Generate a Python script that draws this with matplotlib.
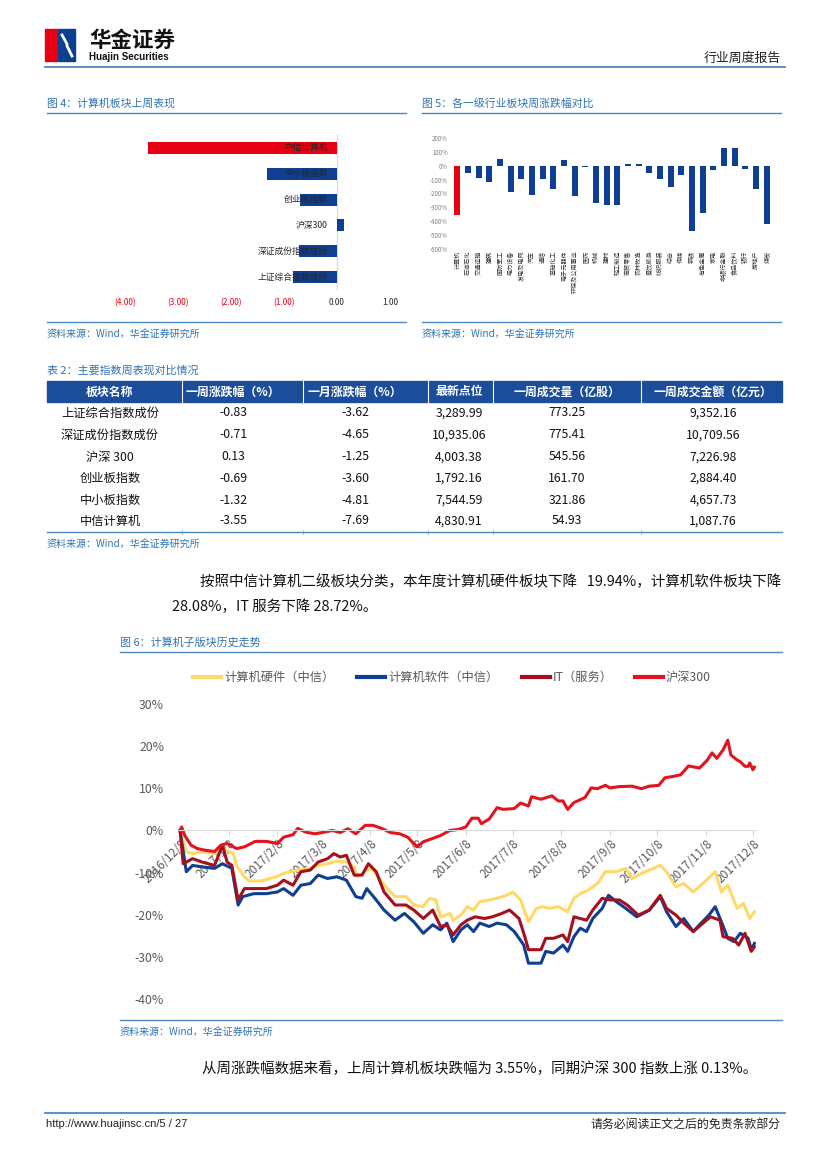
import numpy as np
import pandas as pd
import matplotlib
matplotlib.use("Agg")
import matplotlib.pyplot as plt
import matplotlib.dates as mdates
from matplotlib.patches import Rectangle

plt.rcParams['font.family'] = ['Noto Sans CJK SC', 'DejaVu Sans']
plt.rcParams['axes.unicode_minus'] = False

# ---- 表2 数据 ----
tbl_header = ["板块名称", "一周涨跌幅（%）", "一月涨跌幅（%）", "最新点位", "一周成交量（亿股）", "一周成交金额（亿元）"]
idx_names = ["上证综合指数成份", "深证成份指数成份", "沪深 300", "创业板指数", "中小板指数", "中信计算机"]
week_chg = [-0.83, -0.71, 0.13, -0.69, -1.32, -3.55]
month_chg = [-3.62, -4.65, -1.25, -3.60, -4.81, -7.69]
last_pts = [3289.99, 10935.06, 4003.38, 1792.16, 7544.59, 4830.91]
week_vol = [773.25, 775.41, 545.56, 161.70, 321.86, 54.93]
week_amt = [9352.16, 10709.56, 7226.98, 2884.40, 4657.73, 1087.76]

# ---- 图4 数据 (自下而上) ----
f4_names = ["上证综合指数成份", "深证成份指数成份", "沪深300", "创业板指数", "中小板指数", "中信计算机"]
f4_vals = [-0.83, -0.71, 0.13, -0.69, -1.32, -3.55]

# ---- 图5 数据 ----
f5_names = ["计算机", "石油石化", "交通运输", "建筑", "国防军工", "电力设备", "发电及电网", "汽车", "通信",
            "基础化工", "电子元器件", "环保及公用事业", "医药", "机械", "建材", "轻工制造", "商贸零售",
            "农林牧渔", "餐饮旅游", "纺织服装", "综合", "传媒", "钢铁", "有色金属", "家电", "非银行金融",
            "食品饮料", "银行", "房地产", "煤炭"]
f5_vals = [-355, -50, -85, -120, 50, -190, -95, -210, -95, -165, 45, -220, -10, -265, -280, -280, 15,
           15, -50, -95, -155, -70, -470, -340, -30, 125, 130, -20, -165, -420]

# ---- 图6 数据 (距 2016/12/8 的天数, 累计涨跌幅 %) ----
hs300_d = [0, 1, 3, 7, 11, 16, 22, 26, 30, 36, 41, 48, 55, 62, 66, 72, 75, 80, 86, 92, 97, 102, 107, 112,
           118, 123, 129, 134, 140, 145, 151, 155, 161, 166, 172, 177, 182, 186, 190, 192, 197, 202, 206,
           213, 217, 222, 224, 230, 237, 241, 244, 247, 251, 258, 262, 266, 271, 274, 280, 288, 294, 299,
           305, 309, 314, 319, 324, 331, 336, 339, 342, 346, 349, 351, 355, 357, 360, 362, 363, 365, 366]
hs300_v = [0.0, 0.8, -1.2, -3.5, -4.3, -4.7, -5.0, -3.5, -3.1, -4.3, -3.9, -2.6, -2.6, -3.1, -1.6, -1.0,
           0.5, -0.4, -0.8, -0.4, 0.0, -0.5, 0.4, -0.8, 1.2, 1.2, 0.4, -0.5, -0.8, -1.6, -3.9, -2.7, -1.9,
           -1.2, 0.0, 0.2, 0.8, 2.9, 2.9, 1.6, 2.7, 5.4, 5.0, 5.2, 6.5, 5.8, 8.0, 7.4, 8.2, 7.0, 7.0, 5.0,
           6.6, 7.8, 10.1, 9.9, 10.7, 10.1, 10.4, 10.5, 9.9, 10.5, 10.7, 12.5, 12.8, 13.2, 15.3, 14.8,
           16.7, 18.4, 17.1, 19.1, 21.4, 17.9, 16.7, 16.3, 15.2, 15.2, 16.0, 14.4, 15.0]

hw_d = [0, 4, 8, 14, 22, 27, 32, 34, 36, 41, 44, 52, 61, 66, 75, 83, 88, 94, 100, 106, 111, 113, 119,
        122, 126, 133, 137, 144, 149, 155, 159, 163, 166, 172, 174, 179, 183, 187, 191, 197, 202, 208,
        212, 217, 222, 227, 231, 235, 241, 247, 251, 255, 260, 266, 271, 278, 284, 288, 294, 299, 306,
        310, 316, 321, 327, 332, 341, 345, 349, 355, 359, 363, 366]
hw_v = [0.0, -5.1, -5.5, -5.1, -5.5, -4.3, -5.1, -5.5, -8.3, -11.0, -12.0, -12.0, -11.0, -10.2, -9.4,
        -9.0, -8.3, -7.9, -7.3, -7.5, -8.7, -11.0, -9.4, -9.0, -11.0, -14.2, -15.7, -15.7, -17.7, -18.1,
        -16.1, -16.5, -20.5, -19.7, -21.3, -20.1, -18.1, -18.9, -16.9, -16.5, -16.1, -15.4, -14.6, -16.5,
        -21.7, -18.5, -18.1, -18.5, -18.1, -19.3, -16.1, -15.0, -14.2, -12.6, -9.8, -9.8, -9.0, -11.4,
        -10.2, -9.4, -8.3, -9.8, -13.4, -12.6, -14.6, -13.0, -9.8, -14.6, -13.0, -18.5, -17.3, -20.9, -19.3]

sw_d = [0, 4, 8, 15, 22, 27, 33, 37, 40, 47, 55, 62, 66, 72, 77, 83, 88, 94, 100, 106, 112, 116, 119, 125,
        130, 137, 143, 149, 155, 161, 166, 170, 174, 179, 183, 187, 191, 197, 202, 208, 213, 219, 222, 230,
        233, 238, 244, 247, 251, 255, 259, 263, 269, 273, 278, 284, 291, 299, 306, 310, 316, 321, 327, 331,
        337, 341, 345, 349, 353, 357, 362, 364, 366]
sw_v = [0.0, -9.8, -8.3, -8.7, -9.0, -7.9, -9.0, -17.7, -15.7, -15.0, -15.0, -14.6, -13.8, -15.4, -13.0,
        -12.6, -10.6, -11.4, -11.0, -11.8, -15.7, -16.1, -13.8, -16.5, -18.9, -21.3, -19.7, -21.7, -24.4,
        -22.4, -23.6, -22.0, -26.4, -23.6, -22.4, -24.0, -22.0, -22.8, -22.0, -22.4, -24.0, -27.2, -31.5,
        -31.5, -28.7, -29.1, -27.2, -28.7, -25.2, -23.2, -24.0, -20.9, -18.5, -15.4, -16.9, -18.5, -20.5,
        -18.9, -15.7, -19.3, -22.8, -20.9, -24.0, -22.4, -20.1, -18.1, -21.7, -25.6, -26.4, -24.4, -25.6,
        -28.3, -26.8]

it_d = [0, 2, 8, 14, 22, 27, 30, 33, 37, 41, 47, 55, 62, 66, 72, 77, 83, 88, 94, 98, 102, 106, 111, 116,
        120, 125, 130, 137, 144, 149, 155, 161, 166, 170, 174, 179, 183, 188, 194, 199, 205, 210, 216, 220,
        222, 230, 233, 238, 244, 247, 251, 255, 259, 263, 269, 274, 280, 285, 292, 299, 306, 310, 316, 321,
        327, 332, 338, 344, 346, 352, 356, 360, 364, 366]
it_v = [0.0, -7.9, -6.7, -7.5, -8.3, -3.5, -7.5, -8.3, -16.5, -13.8, -13.8, -13.8, -13.0, -11.8, -13.0,
        -9.8, -9.4, -7.5, -6.7, -5.5, -6.3, -5.9, -10.6, -10.6, -7.9, -9.8, -14.6, -17.7, -17.7, -18.9,
        -20.9, -18.9, -22.8, -22.4, -24.8, -22.4, -21.3, -20.5, -20.9, -20.5, -19.7, -18.9, -20.9, -25.6,
        -28.3, -28.3, -25.6, -25.6, -24.8, -26.4, -20.5, -20.9, -21.3, -18.9, -16.1, -16.5, -16.5, -17.7,
        -20.1, -18.9, -15.4, -18.5, -20.1, -22.0, -24.0, -22.4, -20.5, -21.3, -25.2, -25.6, -27.2, -24.4,
        -28.7, -27.6]

f6_series = [("计算机硬件（中信）", hw_d, hw_v, "#FFD966"),
             ("计算机软件（中信）", sw_d, sw_v, "#0E3F93"),
             ("IT（服务）", it_d, it_v, "#A50F1E"),
             ("沪深300", hs300_d, hs300_v, "#E3141D")]
f6_start = "2016-12-08"
f6_months = ["2016-12-08", "2017-01-08", "2017-02-08", "2017-03-08", "2017-04-08", "2017-05-08",
             "2017-06-08", "2017-07-08", "2017-08-08", "2017-09-08", "2017-10-08", "2017-11-08",
             "2017-12-08"]

W, H = 827, 1169
BLUE_T = "#2E74B5"
BLUE_L = "#4A89C0"
fig = plt.figure(figsize=(8.27, 11.69), dpi=100)
page = fig.add_axes([0, 0, 1, 1])
page.set_xlim(0, W)
page.set_ylim(H, 0)
page.axis('off')


def box(l, t, r, b):
    return fig.add_axes([l / W, 1 - b / H, (r - l) / W, (b - t) / H])


# 页眉
page.add_patch(Rectangle((45, 29), 12, 32, color="#E60012"))
page.add_patch(Rectangle((58, 29), 17, 32, color="#0B3F91"))
page.plot([62, 67, 67, 72], [35, 44, 46, 56], color="white", lw=2)
page.text(89, 40, "华金证券", fontsize=15.5, fontweight="bold", va="center", color="#111111")
page.text(89, 57, "Huajin Securities", fontsize=7, fontweight="bold", va="center",
          family="Liberation Sans", color="#111111")
page.text(781, 58, "行业周度报告", fontsize=9.3, ha="right", va="center", color="#222222")
page.plot([45, 785], [67, 67], color=BLUE_L, lw=1.3)

# 图4 / 图5 标题
page.text(47, 103, "图 4：计算机板块上周表现", fontsize=7.8, color=BLUE_T, va="center")
page.plot([47, 406], [113, 113], color=BLUE_L, lw=1)
page.text(422, 103, "图 5：各一级行业板块周涨跌幅对比", fontsize=7.8, color=BLUE_T, va="center")
page.plot([422, 781], [113, 113], color=BLUE_L, lw=1)
for x0, x1 in [(47, 406), (422, 781)]:
    page.plot([x0, x1], [322, 322], color=BLUE_L, lw=1)
    page.text(x0, 335, "资料来源：Wind，华金证券研究所", fontsize=7.2, color=BLUE_T,
              va="center", style="italic")

# 图4
ax4 = box(100, 135, 405, 290)
ypos = np.arange(len(f4_names))
cols4 = ["#E60012" if n == "中信计算机" else "#0E3F93" for n in f4_names]
ax4.barh(ypos, f4_vals, height=0.47, color=cols4)
ax4.axvline(0, color="#D9D9D9", lw=0.8, zorder=0)
for y, n in zip(ypos, f4_names):
    ax4.text(-0.17, y, n, ha="right", va="center", fontsize=6.3, color="#262626")
ax4.set_xlim(-4.463, 1.281)
ax4.set_ylim(-0.5, 5.5)
ticks4 = [-4, -3, -2, -1, 0, 1]
ax4.set_xticks(ticks4)
ax4.set_xticklabels([f"({abs(t):.2f})" if t < 0 else f"{t:.2f}" for t in ticks4], fontsize=6)
for lab, t in zip(ax4.get_xticklabels(), ticks4):
    lab.set_color("#E60012" if t < 0 else "#262626")
ax4.tick_params(axis="x", length=0, pad=6)
ax4.set_yticks([])
for s in ax4.spines.values():
    s.set_visible(False)
ax4.patch.set_alpha(0)

# 图5
ax5 = box(452, 138, 772, 249)
xpos = np.arange(len(f5_names))
cols5 = ["#E60012" if n == "计算机" else "#0E3F93" for n in f5_names]
ax5.bar(xpos, f5_vals, width=0.56, color=cols5)
ax5.set_ylim(-600, 200)
ax5.set_xlim(-0.5, len(f5_names) - 0.5)
ax5.set_yticks(range(-600, 201, 100))
ax5.set_yticklabels([f"{v}%" for v in range(-600, 201, 100)], fontsize=4.4, color="#7F7F7F")
ax5.set_xticks(xpos)
ax5.set_xticklabels(f5_names, rotation=90, fontsize=4.4, color="#333333")
ax5.tick_params(length=0, pad=3)
ax5.tick_params(axis="x", pad=1)
for s in ax5.spines.values():
    s.set_visible(False)
ax5.patch.set_alpha(0)

# 表2
page.text(47, 370, "表 2：主要指数周表现对比情况", fontsize=7.9, color=BLUE_T, va="center")
page.add_patch(Rectangle((47, 381), 735, 21, color="#1B4D9B"))
col_x = [110, 233, 355, 459, 567, 713]
for xs in [182, 303, 428, 493, 641]:
    page.plot([xs, xs], [381, 402], color="white", lw=0.8)
    page.plot([xs, xs], [530, 534], color="#9DB9DA", lw=0.6)
for cx, h in zip(col_x, tbl_header):
    page.text(cx, 392, h, fontsize=8.6, fontweight="bold", color="white", ha="center", va="center")
row_y = [413, 435, 457, 478, 500, 521]
for i, ry in enumerate(row_y):
    cells = [idx_names[i], f"{week_chg[i]:.2f}", f"{month_chg[i]:.2f}", f"{last_pts[i]:,.2f}",
             f"{week_vol[i]:,.2f}", f"{week_amt[i]:,.2f}"]
    for cx, c in zip(col_x, cells):
        page.text(cx, ry, c, fontsize=8.8, color="#111111", ha="center", va="center")
page.plot([47, 782], [532, 532], color=BLUE_L, lw=1)
page.text(47, 545, "资料来源：Wind，华金证券研究所", fontsize=7.2, color=BLUE_T, va="center", style="italic")

# 正文
page.text(200, 582, "按照中信计算机二级板块分类，本年度计算机硬件板块下降   19.94%，计算机软件板块下降",
          fontsize=10.45, va="center", color="#111111")
page.text(172, 607, "28.08%，IT 服务下降 28.72%。", fontsize=10.45, va="center", color="#111111")

# 图6
page.text(120, 643, "图 6：计算机子版块历史走势", fontsize=7.9, color=BLUE_T, va="center")
page.plot([120, 782], [652, 652], color=BLUE_L, lw=1)
leg_x = [193, 357, 522, 635]
for lx, (name, _, _, c) in zip(leg_x, f6_series):
    page.plot([lx, lx + 28], [677, 677], color=c, lw=3)
    page.text(lx + 31, 677, name, fontsize=8.8, color="#595959", va="center")

base = mdates.date2num(pd.Timestamp(f6_start))
ax6 = box(178, 704, 756, 999)
# 先设定脊线位置 (set_position 会重置刻度)
for s in ["left", "right", "top"]:
    ax6.spines[s].set_visible(False)
ax6.spines["bottom"].set_position(("data", 0))
ax6.spines["bottom"].set_color("#D9D9D9")
for name, d, v, c in f6_series:
    ax6.plot(base + np.asarray(d, dtype=float), v, color=c, lw=2.2, solid_joinstyle="round")
ax6.set_ylim(-40, 30)
ax6.set_xlim(base - 1.3, base + 367)
ax6.set_yticks(range(-40, 31, 10))
ax6.set_yticklabels([f"{v}%" for v in range(-40, 31, 10)], fontsize=8.8, color="#595959")
month_ts = pd.to_datetime(f6_months)
ax6.set_xticks(mdates.date2num(month_ts))
ax6.set_xticklabels([f"{m.year}/{m.month}/{m.day}" for m in month_ts], fontsize=8.5, color="#595959",
                    rotation=45, ha="right", va="top", rotation_mode="anchor")
ax6.tick_params(axis="y", length=0, pad=10)
ax6.tick_params(axis="x", length=4, color="#D9D9D9", pad=1)
ax6.patch.set_alpha(0)

page.plot([120, 782], [1020, 1020], color=BLUE_L, lw=1)
page.text(120, 1033, "资料来源：Wind，华金证券研究所", fontsize=7.2, color=BLUE_T, va="center", style="italic")

page.text(202, 1069, "从周涨跌幅数据来看，上周计算机板块跌幅为 3.55%，同期沪深 300 指数上涨 0.13%。",
          fontsize=10.45, va="center", color="#111111")

# 页脚
page.plot([45, 785], [1113, 1113], color=BLUE_L, lw=1.3)
page.text(46, 1124, "http://www.huajinsc.cn/5 / 27", fontsize=8, va="center", color="#222222",
          family="Liberation Sans")
page.text(781, 1124, "请务必阅读正文之后的免责条款部分", fontsize=8.6, ha="right", va="center", color="#222222")

fig.savefig("out.png", dpi=100)
